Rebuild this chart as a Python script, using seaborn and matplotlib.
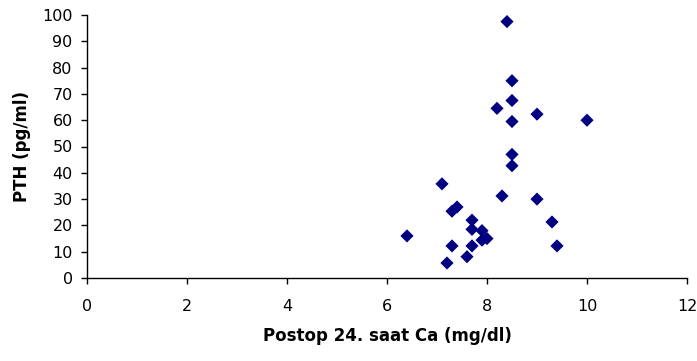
import matplotlib
matplotlib.use("Agg")
import matplotlib.pyplot as plt
import seaborn as sns
import pandas as pd

ca = [8.4, 8.5, 8.5, 8.2, 9.0, 8.5, 10.0, 8.5, 8.5, 7.1, 8.3, 9.0, 7.3, 7.4,
      7.7, 7.7, 7.9, 7.9, 8.0, 6.4, 9.3, 9.4, 7.3, 7.7, 7.6, 7.2]
pth = [97.5, 75, 67.5, 64.5, 62.3, 59.5, 60, 47, 42.7, 35.8, 31.2, 30, 25.4, 27,
       22, 18.5, 18, 14.4, 15, 16, 21.3, 12.2, 12.2, 12.2, 8.1, 5.7]
xticks = [0, 2, 4, 6, 8, 10, 12]
yticks = list(range(0, 101, 10))

df = pd.DataFrame({"ca": ca, "pth": pth})

sns.set_style("white")
plt.rcParams["font.family"] = ["DejaVu Sans"]
plt.rcParams["text.color"] = "black"
plt.rcParams["axes.labelcolor"] = "black"

fig = plt.figure(figsize=(6.97, 3.61), dpi=100)
ax = fig.add_axes([87/697, 1-278/361, 600/697, 263/361])
sns.scatterplot(data=df, x="ca", y="pth", ax=ax, marker="D", s=45,
                color="#000080", edgecolor="none", linewidth=0, legend=False)
ax.set_xlim(0, 12)
ax.set_ylim(0, 100)
ax.set_xticks(xticks)
ax.set_yticks(yticks)
for s in ["top", "right"]:
    ax.spines[s].set_visible(False)
for s in ["left", "bottom"]:
    ax.spines[s].set_color("black")
    ax.spines[s].set_linewidth(1.0)
ax.tick_params(axis="both", direction="out", length=4.3, width=1, color="black",
               labelsize=11.5, labelcolor="black", left=True, bottom=True)
ax.tick_params(axis="y", pad=6)
ax.tick_params(axis="x", pad=11)
ax.set_xlabel("Postop 24. saat Ca (mg/dl)", fontsize=12, fontweight="bold",
              labelpad=9, color="black")
ax.set_ylabel("PTH (pg/ml)", fontsize=12, fontweight="bold", labelpad=8,
              color="black")
ax.grid(False)
fig.savefig("out.png", dpi=100)
